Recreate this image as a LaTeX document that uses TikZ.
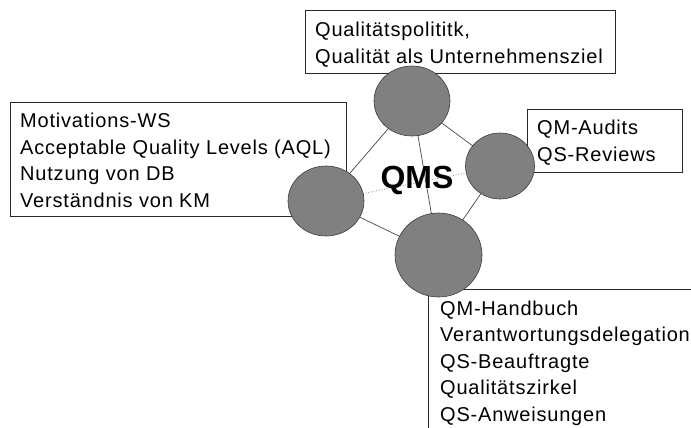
\documentclass[tikz,border=0pt]{standalone}
\usepackage{fontspec}
\setmainfont{Liberation Sans}
\newfontfamily\spacedfont[LetterSpace=4]{Liberation Sans}
\usetikzlibrary{shapes.geometric}
\definecolor{discfill}{RGB}{128,128,128}
\definecolor{discline}{RGB}{60,60,60}
\definecolor{boxline}{RGB}{40,40,40}
\definecolor{linkcol}{RGB}{70,70,70}
\pgfdeclarelayer{bg}
\pgfsetlayers{bg,main}
\begin{document}
\begin{tikzpicture}[x=1pt,y=-1pt,
  box/.style={draw=boxline, line width=0.8pt, rectangle, anchor=north west, inner sep=0pt},
  txt/.style={anchor=north west, inner sep=0pt, align=left, font=\spacedfont\fontsize{20}{26.4}\selectfont},
  disc/.style={ellipse, draw=discline, line width=0.6pt, fill=discfill, inner sep=0pt},
  link/.style={draw=linkcol, line width=0.7pt},
  dotlink/.style={draw=linkcol!80, line width=0.7pt, dotted},
  ]
\useasboundingbox (0,0) rectangle (691,428);
\clip (0,0) rectangle (691,428);
% boxes
\node[box, minimum width=310pt, minimum height=63pt] (tb) at (305,10) {};
\node[box, minimum width=336pt, minimum height=114pt] (lb) at (10,102) {};
\node[box, minimum width=155pt, minimum height=63pt] (rb) at (527,109) {};
\node[box, minimum width=300pt, minimum height=170pt] (bb) at (428,289) {};
% texts
\node[txt] (tt) at (315,22.2) {Qualitätspolititk,\\Qualität als Unternehmensziel};
\node[txt] (lt) at (20,113.2) {Motivations-WS\\Acceptable Quality Levels (AQL)\\Nutzung von DB\\Verständnis von KM};
\node[txt] (rt) at (537,120.2) {QM-Audits\\QS-Reviews};
\node[txt] (bt) at (440,300.9) {QM-Handbuch\\Verantwortungsdelegation\\QS-Beauftragte\\Qualitätszirkel\\QS-Anweisungen};
% circles
\node[disc, minimum width=76pt, minimum height=70pt] (ct) at (412,101) {};
\node[disc, minimum width=76pt, minimum height=70pt] (cl) at (326,201) {};
\node[disc, minimum width=69pt, minimum height=66pt] (cr) at (500,166) {};
\node[disc, minimum width=87pt, minimum height=84pt] (cb) at (438.5,255) {};
% links
\begin{pgfonlayer}{bg}
\draw[link] (ct.center) -- (cl.center);
\draw[link] (ct.center) -- (cr.center);
\draw[link] (ct.center) -- (cb.center);
\draw[link] (cl.center) -- (cb.center);
\draw[link] (cr.center) -- (cb.center);
\draw[dotlink] (cl.center) -- (cr.center);
\end{pgfonlayer}
\node[font=\bfseries\fontsize{32}{36}\selectfont] (qms) at (417,180) {QMS};
\end{tikzpicture}
\end{document}
